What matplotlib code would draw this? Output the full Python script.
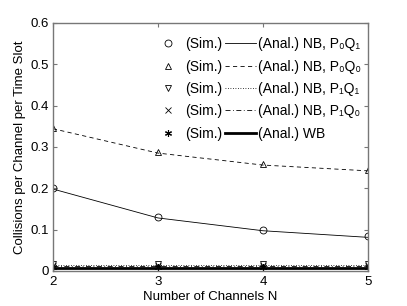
import matplotlib
matplotlib.use("Agg")
import matplotlib.pyplot as plt

plt.rcParams['font.family'] = ['Liberation Sans', 'DejaVu Sans']

channels = [2, 3, 4, 5]
sim_p0q1 = [0.200, 0.130, 0.100, 0.085]
anal_p0q1 = [0.198, 0.128, 0.097, 0.081]
sim_p0q0 = [0.345, 0.287, 0.258, 0.245]
anal_p0q0 = [0.344, 0.285, 0.256, 0.242]
sim_p1q1 = [0.016, 0.016, 0.016, 0.017]
anal_p1q1 = [0.013, 0.013, 0.013, 0.013]
sim_p1q0 = [0.012, 0.012, 0.012, 0.012]
anal_p1q0 = [0.012, 0.012, 0.012, 0.012]
sim_wb = [0.009, 0.009, 0.009, 0.009]
anal_wb = [0.008, 0.008, 0.008, 0.008]

fig = plt.figure(figsize=(4.07, 3.06), dpi=100)
ax = fig.add_axes([0.130, 0.115, 0.774, 0.810])

ms = 5
h_s1, = ax.plot(channels, sim_p0q1, ls='none', marker='o', mfc='none', mec='black', mew=0.6, ms=ms)
h_s2, = ax.plot(channels, sim_p0q0, ls='none', marker='^', mfc='none', mec='black', mew=0.6, ms=ms)
h_s3, = ax.plot(channels, sim_p1q1, ls='none', marker='v', mfc='none', mec='black', mew=0.6, ms=ms)
h_s4, = ax.plot(channels, sim_p1q0, ls='none', marker='x', mfc='none', mec='black', mew=0.6, ms=ms - 1)
h_s5, = ax.plot(channels, sim_wb, ls='none', marker=(6, 2, 0), mec='black', mew=0.8, ms=ms)

h_a1, = ax.plot(channels, anal_p0q1, color='black', lw=0.6, ls='-')
h_a2, = ax.plot(channels, anal_p0q0, color='black', lw=0.6, ls=(0, (5, 4)))
h_a3, = ax.plot(channels, anal_p1q1, color='black', lw=0.6, ls=(0, (1, 2)))
h_a4, = ax.plot(channels, anal_p1q0, color='black', lw=0.6, ls=(0, (6, 3, 1, 3)))
h_a5, = ax.plot(channels, anal_wb, color='black', lw=2.0, ls='-')

ax.set_xlim(2, 5)
ax.set_ylim(0, 0.6)
ax.set_xticks([2, 3, 4, 5])
ax.set_xticklabels(['2', '3', '4', '5'])
ax.set_yticks([0, 0.1, 0.2, 0.3, 0.4, 0.5, 0.6])
ax.set_yticklabels(['0', '0.1', '0.2', '0.3', '0.4', '0.5', '0.6'])
ax.tick_params(direction='in', top=True, right=True, labelsize=9.5, length=3,
               color='#777777', width=0.8)
ax.tick_params(axis='x', pad=4)
ax.tick_params(axis='y', pad=3)
for s in ax.spines.values():
    s.set_color('#777777')
    s.set_linewidth(1.0)

ax.set_xlabel('Number of Channels N', fontsize=9.5, labelpad=2)
ax.set_ylabel('Collisions per Channel per Time Slot', fontsize=9.5, labelpad=3)

handles = [h_s1, h_s2, h_s3, h_s4, h_s5, h_a1, h_a2, h_a3, h_a4, h_a5]
labels = ['(Sim.)'] * 5 + [
    '(Anal.) NB, P\u2080Q\u2081',
    '(Anal.) NB, P\u2080Q\u2080',
    '(Anal.) NB, P\u2081Q\u2081',
    '(Anal.) NB, P\u2081Q\u2080',
    '(Anal.) WB',
]
leg = ax.legend(handles, labels, ncol=2, frameon=False, fontsize=10,
                loc='upper right', bbox_to_anchor=(1.0, 0.97),
                handlelength=2.2, handletextpad=0.15, columnspacing=0.2,
                labelspacing=0.6, borderaxespad=0.1)

fig.savefig('out.png', dpi=100)
